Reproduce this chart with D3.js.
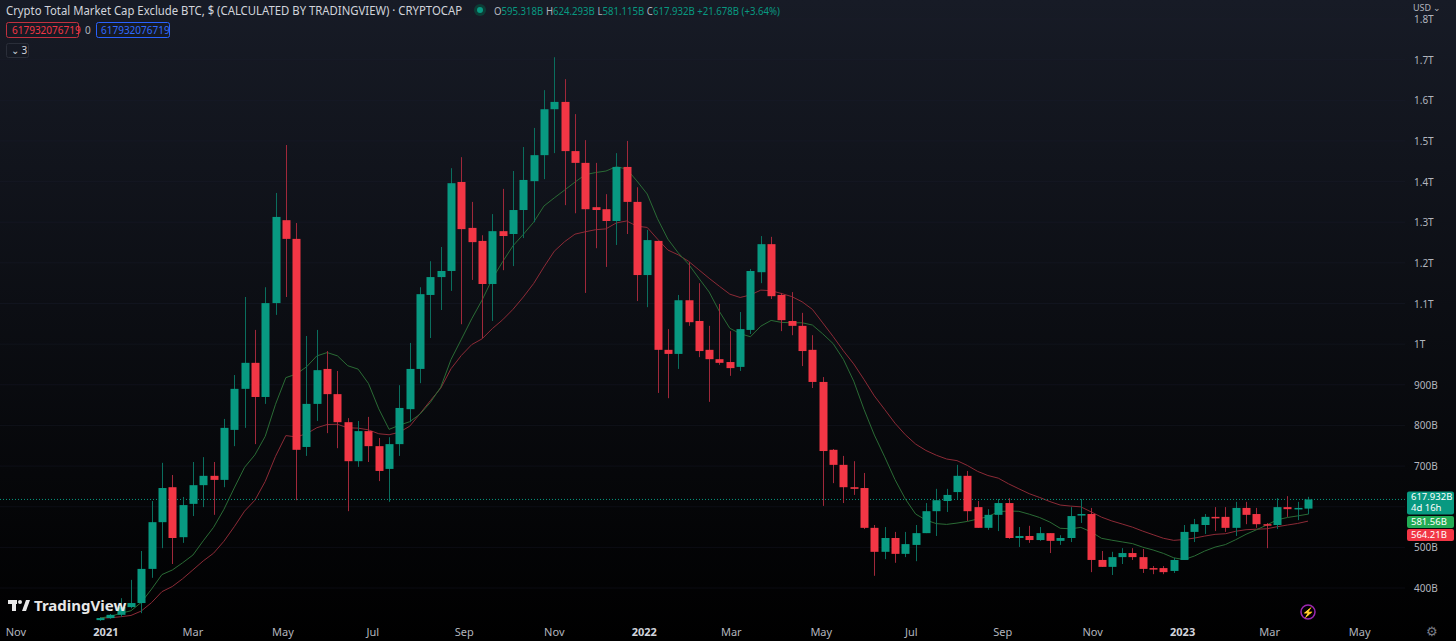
<!DOCTYPE html>
<html>
<head>
<meta charset="utf-8">
<script src="https://cdn.jsdelivr.net/npm/d3@7"></script>
<style>
 body { margin:0; background:#000; overflow:hidden; font-family:"Noto Sans","Open Sans",sans-serif; }
 text { font-family:"Noto Sans","Open Sans",sans-serif; }
</style>
</head>
<body>
<script>
// weekly candles, billions USD: [open, high, low, close]
var firstWeek = "2020-12-28";
var ohlc = [
 [321,328,319,326],[326,336,324,334],[334,375,329,353],[353,420,350,363],[363,491,338,447],
 [447,614,425,562],[562,708,498,646],[648,678,459,523],[525,624,511,604],[607,710,577,653],
 [653,722,599,676],[676,710,580,666],[666,816,648,794],[789,924,749,890],[890,1116,794,954],
 [954,1035,754,870],[870,1140,853,1101],[1101,1372,1072,1313],[1305,1490,1116,1259],[1259,1298,616,740],
 [747,1020,725,853],[853,1035,811,936],[939,983,781,877],[877,934,744,808],[808,818,589,712],
 [712,811,698,786],[786,821,710,749],[749,769,663,688],[693,771,612,754],[754,899,725,843],
 [840,1003,808,939],[939,1140,904,1123],[1121,1204,1015,1165],[1165,1239,1084,1180],[1180,1433,1131,1396],
 [1399,1460,1049,1283],[1286,1350,1158,1251],[1254,1268,1015,1148],[1148,1320,1057,1278],[1278,1382,1182,1266],
 [1271,1426,1192,1330],[1330,1485,1261,1404],[1401,1532,1300,1465],[1465,1625,1406,1578],[1578,1706,1470,1596],
 [1596,1652,1342,1475],[1475,1566,1322,1446],[1446,1502,1126,1332],[1337,1446,1236,1330],[1332,1369,1190,1303],
 [1303,1470,1244,1436],[1436,1500,1271,1350],[1350,1386,1106,1170],[1170,1281,1091,1256],[1254,1254,880,986],
 [986,1037,867,976],[976,1121,939,1108],[1108,1202,1045,1054],[1057,1150,968,983],[986,1045,858,963],
 [963,1099,949,954],[956,1032,922,941],[944,1079,934,1037],[1035,1185,1025,1180],[1177,1266,1150,1246],
 [1246,1264,1111,1118],[1121,1126,1032,1059],[1057,1128,1022,1045],[1045,1077,946,983],[986,1022,892,907],
 [907,919,602,737],[740,742,658,703],[703,725,609,648],[648,712,629,644],[646,683,545,548],
 [548,555,430,489],[489,550,471,523],[523,538,462,484],[484,538,476,508],[506,555,466,535],
 [535,609,535,589],[589,644,528,616],[614,644,587,629],[636,703,619,676],[676,688,565,589],
 [599,614,548,548],[548,594,543,580],[580,619,540,609],[609,621,521,523],[523,550,501,528],
 [528,553,511,518],[518,550,516,535],[535,535,486,516],[516,530,506,523],[523,599,513,577],
 [580,619,560,582],[582,597,439,469],[469,491,452,452],[452,489,432,476],[476,498,459,486],
 [486,498,469,476],[476,496,437,447],[449,454,434,447],[449,454,434,439],[442,474,437,469],
 [469,555,469,538],[538,570,513,557],[555,582,533,575],[575,599,540,572],[575,599,538,548],
 [548,612,528,597],[597,612,557,580],[582,597,548,557],[557,560,498,555],[555,621,545,599],
 [599,626,575,594],[594,612,567,597],[595.318,624.293,581.115,617.932]
];
var yTicks = [400,500,600,700,800,900,1000,1100,1200,1300,1400,1500,1600,1700,1800];
var xTicks = ["2020-11-01","2021-01-01","2021-03-01","2021-05-01","2021-07-01","2021-09-01","2021-11-01",
  "2022-01-01","2022-03-01","2022-05-01","2022-07-01","2022-09-01","2022-11-01","2023-01-01","2023-03-01","2023-05-01"];

var W = 1456, H = 641, plotR = 1405, plotB = 621;
var UP = "#089981", DN = "#f23645";
var t0 = new Date(firstWeek + "T00:00:00");
var data = ohlc.map(function(d, i) {
  return {date: d3.timeDay.offset(t0, i * 7), o:d[0], h:d[1], l:d[2], c:d[3]};
});
// moving averages: SMA 10 and EMA 20 of closes
data.forEach(function(d, i) {
  var s = data.slice(Math.max(0, i - 9), i + 1);
  d.ma10 = d3.mean(s, function(e) { return e.c; });
  d.ema20 = i === 0 ? d.c : data[i-1].ema20 + (d.c - data[i-1].ema20) * 2 / 21;
});

var x = d3.scaleTime().domain([t0, data[data.length-1].date]).range([100, 1308]);
var y = d3.scaleLinear().domain([400, 1800]).range([588, 19]);

var svg = d3.select("body").append("svg").attr("width", W).attr("height", H);
var defs = svg.append("defs");
var g = defs.append("linearGradient").attr("id", "bg").attr("x1", 0).attr("y1", 0).attr("x2", 0).attr("y2", 1);
g.append("stop").attr("offset", "0%").attr("stop-color", "#171b26");
g.append("stop").attr("offset", "100%").attr("stop-color", "#000000");
defs.append("clipPath").attr("id", "clip").append("rect").attr("x", 0).attr("y", 0).attr("width", plotR).attr("height", plotB);
svg.append("rect").attr("width", W).attr("height", H).attr("fill", "url(#bg)");

var plot = svg.append("g").attr("clip-path", "url(#clip)");

// grid
plot.selectAll("line.hg").data(yTicks).enter().append("line")
  .attr("x1", 0).attr("x2", plotR).attr("y1", function(d){return y(d);}).attr("y2", function(d){return y(d);})
  .attr("stroke", "#1c2030").attr("stroke-opacity", 0.35);

// moving averages
plot.append("path").datum(data).attr("fill", "none").attr("stroke", "#8c2a36").attr("stroke-width", 1)
  .attr("d", d3.line().x(function(d){return x(d.date);}).y(function(d){return y(d.ema20);}));
plot.append("path").datum(data).attr("fill", "none").attr("stroke", "#2a6b35").attr("stroke-width", 1)
  .attr("d", d3.line().x(function(d){return x(d.date);}).y(function(d){return y(d.ma10);}));

// current price line
var last = data[data.length-1];
plot.append("line").attr("x1", 0).attr("x2", plotR).attr("y1", y(last.c)).attr("y2", y(last.c))
  .attr("stroke", UP).attr("stroke-dasharray", "1,2").attr("stroke-width", 1);

// candles
var candle = plot.selectAll("g.candle").data(data).enter().append("g").attr("class", "candle");
candle.append("line")
  .attr("x1", function(d){return Math.round(x(d.date)) + 0.5;}).attr("x2", function(d){return Math.round(x(d.date)) + 0.5;})
  .attr("y1", function(d){return y(d.h);}).attr("y2", function(d){return y(d.l);})
  .attr("stroke", function(d){return d.c >= d.o ? "#0a6e5e" : "#a0283a";});
candle.append("rect")
  .attr("x", function(d){return Math.round(x(d.date)) - 3.5;}).attr("width", 8)
  .attr("y", function(d){return y(Math.max(d.o, d.c));})
  .attr("height", function(d){return Math.max(1.5, Math.abs(y(d.o) - y(d.c)));})
  .attr("fill", function(d){return d.c >= d.o ? UP : DN;});

// right axis
var fmt = function(v) { return v >= 1000 ? (v/1000) + "T" : v + "B"; };
svg.selectAll("text.yl").data(yTicks.filter(function(v){return v !== 600;})).enter().append("text")
  .attr("x", 1414).attr("y", function(d){return y(d) + 4;})
  .attr("fill", "#b2b5be").attr("font-size", 10).text(fmt);

// price labels
function tag(yy, h, col, lines) {
  svg.append("rect").attr("x", 1407).attr("y", yy).attr("width", 47).attr("height", h).attr("rx", 2).attr("fill", col);
  lines.forEach(function(s, i) {
    svg.append("text").attr("x", 1411).attr("y", yy + 9 + i * 11).attr("fill", "#fff").attr("font-size", 9.5).text(s);
  });
}
tag(y(last.c) - 8, 23, UP, ["617.932B", "4d 16h"]);
tag(516, 12, "#22ab55", ["581.56B"]);
tag(529, 12, DN, ["564.21B"]);

// bottom axis
svg.selectAll("text.xl").data(xTicks).enter().append("text")
  .attr("x", function(d){return x(new Date(d + "T00:00:00"));}).attr("y", 636)
  .attr("text-anchor", "middle").attr("font-size", 11)
  .attr("font-weight", function(d){return d.slice(5) === "01-01" ? "bold" : "normal";})
  .attr("fill", function(d){return d.slice(5) === "01-01" ? "#d1d4dc" : "#b2b5be";})
  .text(function(d){
    var dt = new Date(d + "T00:00:00");
    return dt.getMonth() === 0 ? dt.getFullYear() : d3.timeFormat("%b")(dt);
  });

// header
svg.append("text").attr("x", 6).attr("y", 15).attr("fill", "#d1d4dc").attr("font-size", 12)
  .attr("textLength", 456).attr("lengthAdjust", "spacingAndGlyphs")
  .text("Crypto Total Market Cap Exclude BTC, $ (CALCULATED BY TRADINGVIEW) · CRYPTOCAP");
svg.append("circle").attr("cx", 480).attr("cy", 10).attr("r", 6).attr("fill", "#0c3d36");
svg.append("circle").attr("cx", 480).attr("cy", 10).attr("r", 3).attr("fill", UP);
var ohlcTxt = svg.append("text").attr("x", 494).attr("y", 15).attr("font-size", 10)
  .attr("textLength", 286).attr("lengthAdjust", "spacingAndGlyphs");
[["O","595.318B"],["H","624.293B"],["L","581.115B"],["C","617.932B"]].forEach(function(p) {
  ohlcTxt.append("tspan").attr("fill", "#b2b5be").text(p[0]);
  ohlcTxt.append("tspan").attr("fill", UP).text(p[1] + " ");
});
ohlcTxt.append("tspan").attr("fill", UP).text("+21.678B (+3.64%)");

svg.append("rect").attr("x", 6.5).attr("y", 22.5).attr("width", 72).attr("height", 15).attr("rx", 2)
  .attr("fill", "none").attr("stroke", "#c1313f");
svg.append("text").attr("x", 12).attr("y", 34).attr("fill", DN).attr("font-size", 10).text("617932076719");
svg.append("text").attr("x", 85).attr("y", 34).attr("fill", "#b2b5be").attr("font-size", 10).text("0");
svg.append("rect").attr("x", 96.5).attr("y", 22.5).attr("width", 73).attr("height", 15).attr("rx", 2)
  .attr("fill", "none").attr("stroke", "#2962ff");
svg.append("text").attr("x", 101).attr("y", 34).attr("fill", "#2f6bff").attr("font-size", 10).text("617932076719");
svg.append("rect").attr("x", 6.5).attr("y", 43.5).attr("width", 22).attr("height", 14).attr("rx", 2)
  .attr("fill", "none").attr("stroke", "#2a2e39");
svg.append("text").attr("x", 11).attr("y", 54).attr("fill", "#d1d4dc").attr("font-size", 10).text("⌄ 3");

svg.append("text").attr("x", 1413).attr("y", 11).attr("fill", "#b2b5be").attr("font-size", 9).text("USD ⌄");

// logo
var logo = svg.append("g").attr("fill", "#e8e8e8");
logo.append("rect").attr("x", 8).attr("y", 600).attr("width", 9).attr("height", 4);
logo.append("rect").attr("x", 12).attr("y", 600).attr("width", 4).attr("height", 11);
logo.append("circle").attr("cx", 20).attr("cy", 602).attr("r", 2);
logo.append("path").attr("d", "M22,611 L26,600 L30,600 L26,611 Z");
logo.append("text").attr("x", 34).attr("y", 611).attr("font-size", 15).attr("font-weight", "bold").text("TradingView");
svg.append("circle").attr("cx", 1308).attr("cy", 612).attr("r", 7).attr("fill", "none").attr("stroke", "#9c27b0").attr("stroke-width", 1.5);
svg.append("text").attr("x", 1308).attr("y", 616).attr("text-anchor", "middle").attr("fill", "#9c27b0").attr("font-size", 10).text("⚡");
svg.append("text").attr("x", 1432).attr("y", 636).attr("text-anchor", "middle").attr("fill", "#787b86").attr("font-size", 13).text("⚙");
</script>
</body>
</html>
